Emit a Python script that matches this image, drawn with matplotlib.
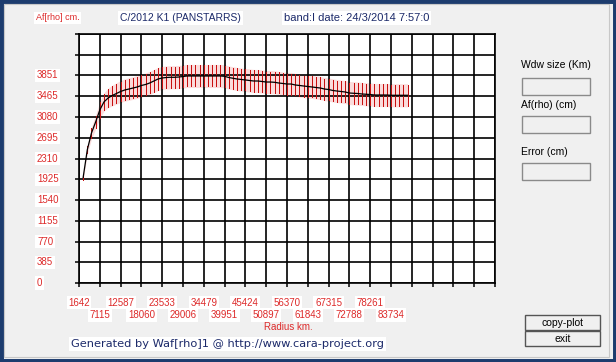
import numpy as np
import matplotlib.pyplot as plt
import matplotlib.transforms as mtransforms
from matplotlib.patches import Rectangle

# Af(rho) profile of C/2012 K1, one point per error bar
radius_km = [2737, 3831, 4926, 6020, 7115, 8209, 9304, 10398, 11493, 12587,
             13682, 14776, 15871, 16966, 18060, 19155, 20249, 21344, 22438, 23533,
             24628, 25722, 26817, 27911, 29006, 30100, 31195, 32289, 33384, 34479,
             35573, 36668, 37762, 38857, 39951, 41046, 42140, 43235, 44329, 45424,
             46519, 47613, 48708, 49802, 50897, 51991, 53086, 54180, 55275, 56370,
             57464, 58559, 59653, 60748, 61843, 62937, 64032, 65126, 66221, 67315,
             68410, 69504, 70599, 71694, 72788, 73883, 74977, 76072, 77166, 78261,
             79356, 80450, 81545, 82639, 83734, 84828, 85923, 87018, 88112]
afrho_cm = [1960, 2474, 2784, 2988, 3211, 3360, 3434, 3480, 3517, 3554,
            3582, 3600, 3619, 3638, 3666, 3684, 3712, 3749, 3786, 3805,
            3814, 3818, 3818, 3823, 3832, 3842, 3842, 3842, 3842, 3842,
            3842, 3842, 3842, 3842, 3836, 3814, 3800, 3786, 3777, 3768,
            3758, 3749, 3749, 3740, 3730, 3730, 3725, 3712, 3703, 3693,
            3693, 3675, 3666, 3656, 3647, 3638, 3628, 3619, 3600, 3591,
            3573, 3563, 3554, 3545, 3526, 3521, 3517, 3508, 3503, 3498,
            3489, 3489, 3489, 3489, 3484, 3484, 3484, 3484, 3484]
afrho_err = [40, 70, 100, 120, 140, 155, 165, 175, 180, 185,
             188, 190, 192, 193, 194, 195, 195, 195, 195, 195,
             195, 195, 195, 195, 195, 195, 195, 195, 195, 195,
             195, 195, 195, 195, 195, 195, 195, 195, 195, 195,
             195, 195, 195, 195, 195, 195, 195, 195, 195, 195,
             195, 195, 195, 195, 195, 195, 195, 195, 195, 195,
             195, 195, 195, 195, 195, 195, 195, 195, 195, 195,
             195, 195, 195, 195, 195, 195, 195, 195, 195]

x_tick_labels = ['1642', '7115', '12587', '18060', '23533', '29006', '34479', '39951',
                 '45424', '50897', '56370', '61843', '67315', '72788', '78261', '83734']
y_tick_labels = ['0', '385', '770', '1155', '1540', '1925', '2310', '2695',
                 '3080', '3465', '3851']

RED = '#dd2a2a'
NAVY = '#1c2a6a'
W, H = 616, 362


def fx(px):
    return px / W


def fy(py):
    return 1 - py / H


fig = plt.figure(figsize=(W / 100, H / 100), dpi=100, facecolor='#f0f0f0')
plt.rcParams['font.family'] = ['Liberation Sans', 'DejaVu Sans']

# window frame
fig.patches.append(Rectangle((0, 0), 1, 1, transform=fig.transFigure, fill=False,
                             edgecolor='#1d3c6e', lw=5))
fig.patches.append(Rectangle((fx(4), fy(357)), fx(605), 353 / H, transform=fig.transFigure,
                             fill=False, edgecolor='#c8c8c8', lw=0.8))

ax = fig.add_axes([fx(79), fy(283), 416 / W, 249 / H])
ax.set_facecolor('white')

x_step = float(x_tick_labels[1]) - float(x_tick_labels[0])
y_step = float(y_tick_labels[-1]) / 10
x0 = float(x_tick_labels[0])
ax.set_xlim(x0, x0 + 20 * x_step)
ax.set_ylim(0, 12 * y_step)
ax.set_xticks(np.linspace(x0, x0 + 20 * x_step, 21))
ax.set_yticks(np.linspace(0, 12 * y_step, 13))
ax.set_xticklabels([])
ax.set_yticklabels([])
ax.tick_params(length=3, width=1.1, direction='out', color='black')
ax.set_axisbelow('line')
ax.grid(True, color='black', lw=1.2)
for s in ax.spines.values():
    s.set_linewidth(1.2)

r = np.array(radius_km)
v = np.array(afrho_cm)
e = np.array(afrho_err)
ax.fill_between(r, v - e * 1.1, v + e * 1.1, color='#fadcdc', lw=0, zorder=1)
ax.vlines(r, v - e, v + e, color='#c80f0f', lw=0.72, zorder=2, antialiased=False,
          capstyle='butt')
ax.plot(r, v, color='black', lw=0.9, zorder=3)

box = dict(facecolor='white', edgecolor='none', pad=1.2)

# y labels, left aligned at a fixed screen x
ytr = mtransforms.blended_transform_factory(fig.transFigure, ax.transData)
for lbl in y_tick_labels:
    ax.text(fx(37), float(lbl), lbl, transform=ytr, ha='left', va='center',
            fontsize=7, color=RED, bbox=box, clip_on=False)

# x labels in two staggered rows
xtr = mtransforms.blended_transform_factory(ax.transData, fig.transFigure)
for k, lbl in enumerate(x_tick_labels):
    row_y = fy(302.5) if k % 2 == 0 else fy(315)
    ax.text(x0 + k * x_step, row_y, lbl, transform=xtr, ha='center', va='center',
            fontsize=7, color=RED, bbox=box, clip_on=False)

fig.text(fx(288), fy(327), 'Radius km.', ha='center', va='center', fontsize=7, color=RED)
fig.text(fx(36), fy(18), 'Af[rho] cm.', ha='left', va='center', fontsize=6.5, color=RED,
         bbox=box)
fig.text(fx(120), fy(18), 'C/2012 K1 (PANSTARRS)', ha='left', va='center', fontsize=7.5,
         color=NAVY, bbox=box)
fig.text(fx(284), fy(18), 'band:I date: 24/3/2014 7:57:0', ha='left', va='center',
         fontsize=8, color=NAVY, bbox=box)
fig.text(fx(71), fy(344), 'Generated by Waf[rho]1 @ http://www.cara-project.org',
         ha='left', va='center', fontsize=8.2, color=NAVY, bbox=box,
         family='DejaVu Sans')

# right side panel
panel = [('Wdw size (Km)', 65, 78), ('Af(rho) (cm)', 105, 116), ('Error (cm)', 152, 163)]
for label, ty, by in panel:
    fig.text(fx(521), fy(ty), label, ha='left', va='center', fontsize=7.5, color='black')
    fig.patches.append(Rectangle((fx(522), fy(by + 17)), fx(68), 17 / H,
                                 transform=fig.transFigure, facecolor='#f0f0f0',
                                 edgecolor='#8a8a8a', lw=1))

for label, top in [('copy-plot', 315), ('exit', 331)]:
    fig.patches.append(Rectangle((fx(525), fy(top + 15)), fx(75), 15 / H,
                                 transform=fig.transFigure, facecolor='#f0f0f0',
                                 edgecolor='#555555', lw=1))
    fig.text(fx(562.5), fy(top + 7.5), label, ha='center', va='center', fontsize=7.5,
             color='black')

fig.savefig('out.png', dpi=100, facecolor=fig.get_facecolor())
